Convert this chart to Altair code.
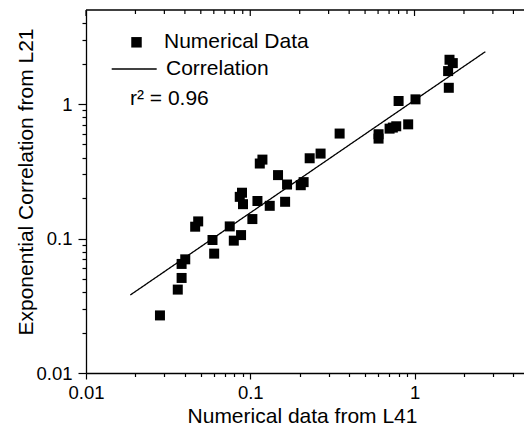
import altair as alt
import pandas as pd

# ---- data ----
x_vals = [0.0282, 0.0362, 0.0382, 0.0382, 0.0402, 0.0462, 0.0482, 0.0589, 0.0603, 0.075,
          0.0794, 0.0879, 0.0863, 0.0891, 0.0903, 0.103, 0.1106, 0.1143, 0.1186, 0.1314,
          0.1476, 0.163, 0.1675, 0.203, 0.2113, 0.230, 0.268, 0.350, 0.604, 0.604,
          0.705, 0.738, 0.774, 0.800, 0.915, 1.014, 1.617, 1.602, 1.633, 1.71]
y_vals = [0.0268, 0.0417, 0.0509, 0.0647, 0.070, 0.1224, 0.134, 0.0975, 0.0772, 0.123,
          0.0964, 0.106, 0.204, 0.219, 0.180, 0.1395, 0.19, 0.361, 0.386, 0.175,
          0.296, 0.1875, 0.252, 0.249, 0.2625, 0.395, 0.428, 0.603, 0.596, 0.553,
          0.656, 0.668, 0.683, 1.053, 0.706, 1.083, 1.32, 1.757, 2.133, 2.014]
fit_x = [0.0186, 2.70]
fit_y = [0.038, 2.45]

x_major = [0.01, 0.1, 1]
x_minor = [0.02, 0.03, 0.04, 0.05, 0.06, 0.07, 0.08, 0.09,
           0.2, 0.3, 0.4, 0.5, 0.6, 0.7, 0.8, 0.9, 2, 3, 4]
y_major = [0.01, 0.1, 1]
y_minor = [0.02, 0.03, 0.04, 0.05, 0.06, 0.07, 0.08, 0.09,
           0.2, 0.3, 0.4, 0.5, 0.6, 0.7, 0.8, 0.9, 2, 3, 4]

series_pts = "Numerical Data"
series_fit = "Correlation"
annotation = "r² = 0.96"
x_title = "Numerical data from L41"
y_title = "Exponential Correlation from L21"

FONT = "Liberation Sans"
W, H = 438, 363
XMAX, YMAX = 4.64, 5

pts = pd.DataFrame({"x": x_vals, "y": y_vals, "series": series_pts})
fit = pd.DataFrame({"x": fit_x, "y": fit_y, "series": series_fit})
top_major = pd.DataFrame({"x": x_major})
top_minor = pd.DataFrame({"x": x_minor})
ann = pd.DataFrame({"t": [annotation]})
one = pd.DataFrame({"a": [0]})

xscale = alt.Scale(type="log", domain=[0.01, XMAX], nice=False)
yscale = alt.Scale(type="log", domain=[0.01, YMAX], nice=False)

major_test = "datum.value == 0.01 || datum.value == 0.1 || datum.value == 1"
label_expr = "datum.value == 0.01 ? '0.01' : datum.value == 0.1 ? '0.1' : datum.value == 1 ? '1' : ''"

common_axis = dict(
    grid=False, domainColor="black", domainWidth=1.3, tickColor="black", tickWidth=1.2,
    labelFont=FONT, labelColor="black", labelFontSize=18.5, labelExpr=label_expr,
    labelOverlap=False, labelFlush=False, labelBound=False,
    titleFont=FONT, titleFontSize=21, titleFontWeight="normal", titleColor="black",
    titleBaseline="alphabetic",
)

xaxis = alt.Axis(
    values=x_major + x_minor, title=x_title,
    tickSize={"condition": {"test": major_test, "value": 6}, "value": 3.5},
    labelPadding=4, titleX=216, titleY=49, titleAlign="center",
    **common_axis,
)
yaxis = alt.Axis(
    values=y_major + y_minor, title=y_title,
    tickSize={"condition": {"test": major_test, "value": 8}, "value": 4},
    labelPadding=6, titleX=-53.5, titleY=171.5, titleAlign="center",
    **common_axis,
)

X = alt.X("x:Q", scale=xscale, axis=xaxis)
Y = alt.Y("y:Q", scale=yscale, axis=yaxis)

points = alt.Chart(pts).mark_point(filled=True, color="black", opacity=1, size=100).encode(
    x=X, y=Y,
    shape=alt.Shape("series:N",
                    scale=alt.Scale(domain=[series_pts], range=["square"]),
                    legend=alt.Legend(orient="none", legendX=40, legendY=21.8, title=None,
                                      padding=0, labelFontSize=21, labelFont=FONT,
                                      labelColor="black", labelOffset=17, symbolSize=110,
                                      symbolFillColor="black", symbolStrokeWidth=0,
                                      symbolOpacity=1)),
)

line = alt.Chart(fit).mark_line(color="black", strokeWidth=1.3).encode(
    x=X, y=Y,
    strokeDash=alt.StrokeDash("series:N",
                              scale=alt.Scale(domain=[series_fit], range=[[1, 0]]),
                              legend=alt.Legend(orient="none", legendX=24.7, legendY=35.5,
                                                title=None, padding=0, labelFontSize=21,
                                                labelFont=FONT, labelColor="black",
                                                labelOffset=8.3, symbolType="stroke",
                                                symbolSize=2025, symbolStrokeWidth=1.3,
                                                symbolStrokeColor="black")),
)

ticks_major = alt.Chart(top_major).mark_rule(color="black", strokeWidth=1.2).encode(
    x=X, y=alt.value(0), y2=alt.value(6))
ticks_minor = alt.Chart(top_minor).mark_rule(color="black", strokeWidth=1.2).encode(
    x=X, y=alt.value(0), y2=alt.value(4))

top_border = alt.Chart(one).mark_rule(color="black", strokeWidth=1.3).encode(
    x=alt.value(0), x2=alt.value(W), y=alt.value(0))

text = alt.Chart(ann).mark_text(align="left", baseline="alphabetic", fontSize=21,
                                font=FONT, color="black").encode(
    x=alt.value(44), y=alt.value(94.7), text="t:N")

chart = alt.layer(line, points, ticks_major, ticks_minor, top_border, text).properties(
    width=W, height=H,
    autosize=alt.AutoSizeParams(type="none"),
    padding={"left": 86, "top": 10, "right": 0, "bottom": 54},
).resolve_scale(shape="independent", strokeDash="independent").configure_view(stroke=None)

chart.save("out.html", embed_options={"renderer": "svg", "actions": False})
